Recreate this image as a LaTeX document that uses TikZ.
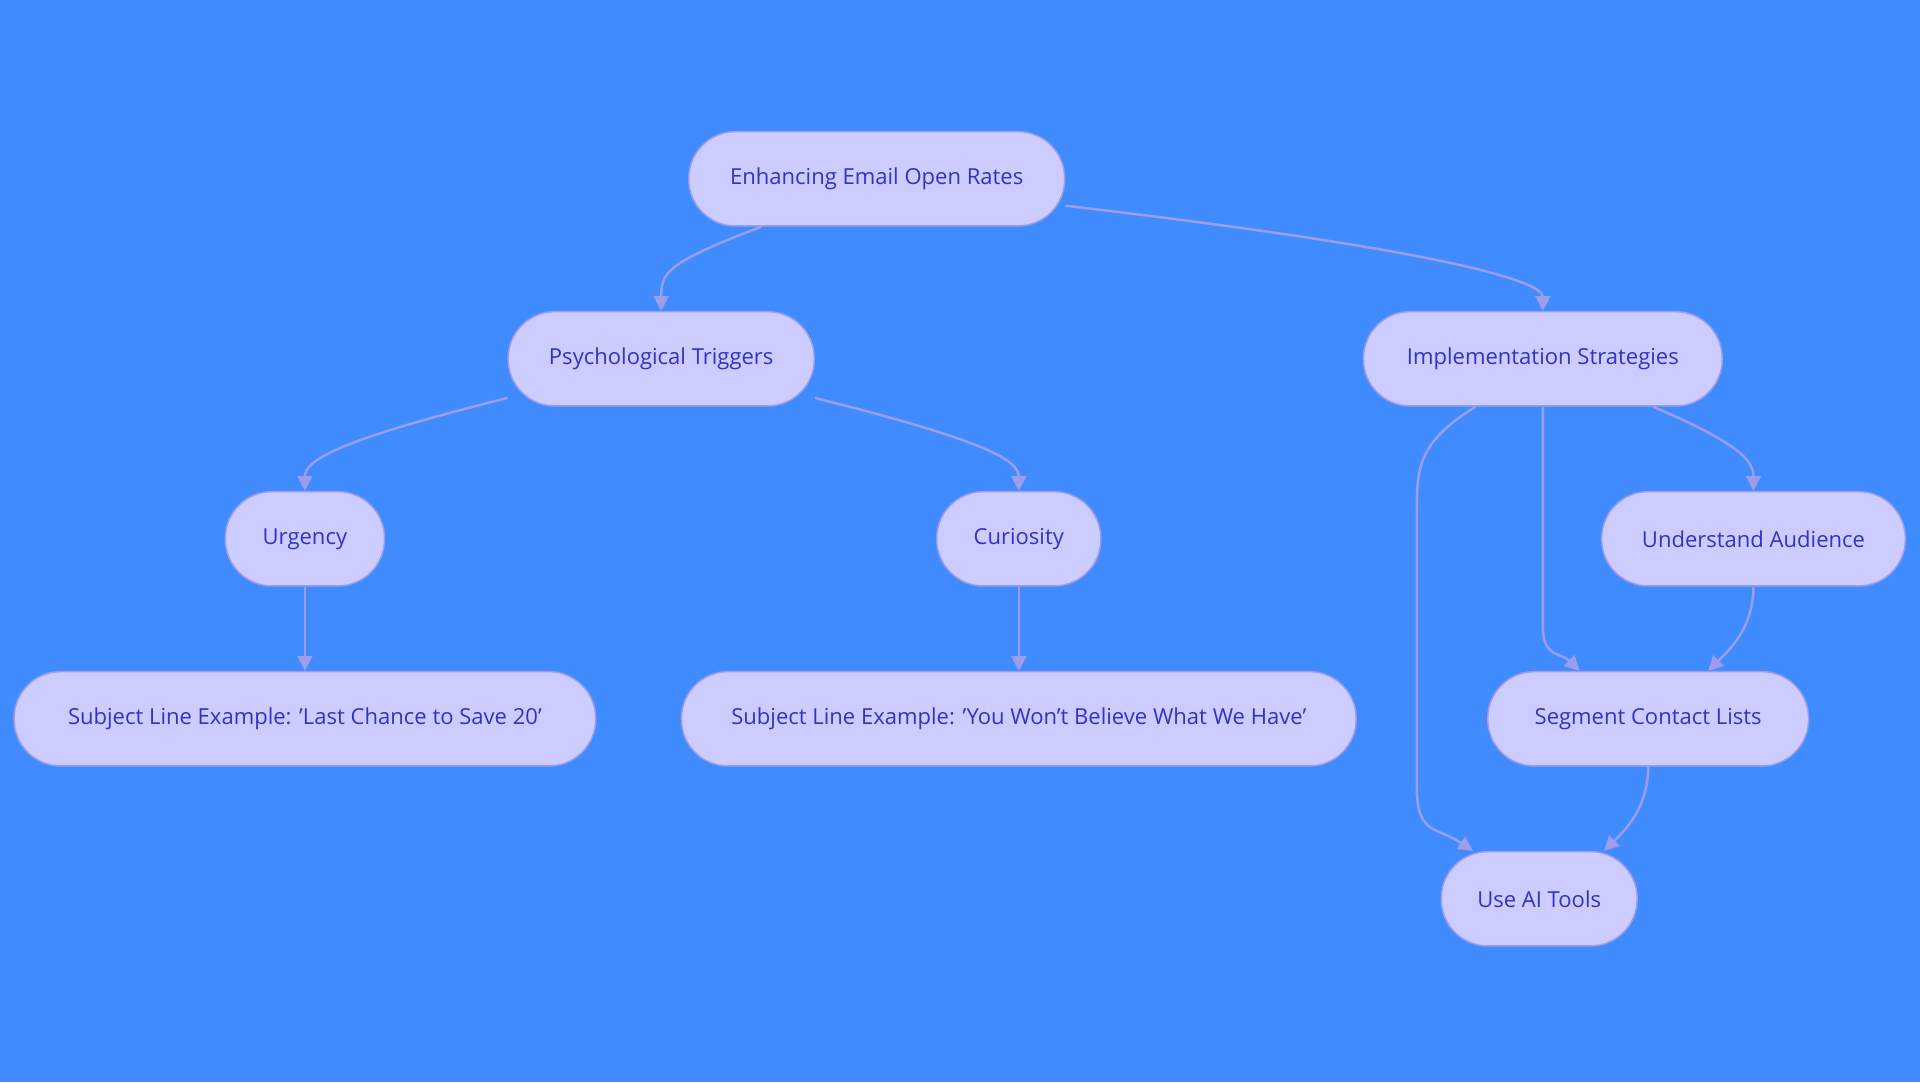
\documentclass[tikz,border=0pt]{standalone}
\usepackage{fontspec}
\setmainfont{Open Sans}
\usetikzlibrary{positioning, calc, arrows.meta}
\definecolor{bgblue}{HTML}{408CFF}
\definecolor{boxfill}{HTML}{CCCCFF}
\definecolor{boxline}{HTML}{9D9DEB}
\definecolor{boxtext}{HTML}{3232C8}
\begin{document}
\begin{tikzpicture}[x=1pt, y=1pt, >={Triangle[length=12pt, width=12pt]},
    box/.style={draw=boxline, line width=1.2pt, fill=boxfill, rounded corners=38pt,
        minimum height=77pt, text=boxtext, font=\fontsize{18}{22}\selectfont, inner sep=0pt},
    link/.style={->, draw=boxline, line width=2pt, color=boxline}]
    \fill[bgblue] (0,0) rectangle (1568,-884);
    \useasboundingbox (0,0) rectangle (1568,-884);

    \node[box, minimum width=307pt] (enh)  at (716,-146) {Enhancing Email Open Rates};
    \node[box, minimum width=250pt] (psy)  at (540,-293) {Psychological Triggers};
    \node[box, minimum width=293pt] (impl) at (1260,-293) {Implementation Strategies};
    \node[box, minimum width=130pt] (urg)  at (249,-440) {Urgency};
    \node[box, minimum width=134pt] (cur)  at (832,-440) {Curiosity};
    \node[box, minimum width=248pt] (aud)  at (1432,-440) {Understand Audience};
    \node[box, minimum width=475pt] (exl)  at (249,-587) {Subject Line Example: 'Last Chance to Save 20'};
    \node[box, minimum width=551pt] (exc)  at (832,-587) {Subject Line Example: 'You Won't Believe What We Have'};
    \node[box, minimum width=262pt] (seg)  at (1346,-587) {Segment Contact Lists};
    \node[box, minimum width=160pt] (ai)   at (1257,-734) {Use AI Tools};

    % links
    \draw[link] ([xshift=-94pt]enh.south) .. controls ++(-80,-30) and ++(0,30) .. (psy.north);
    \draw[link] ([yshift=-22pt]enh.east) .. controls ++(300,-35) and ++(0,25) .. (impl.north);
    \draw[link] ([yshift=-32pt]psy.west) .. controls ++(-140,-35) and ++(0,25) .. (urg.north);
    \draw[link] ([yshift=-32pt]psy.east) .. controls ++(140,-35) and ++(0,25) .. (cur.north);
    \draw[link] (urg) -- (exl);
    \draw[link] (cur) -- (exc);
    \draw[link] ([xshift=-55pt]impl.south) .. controls ++(-48,-30) and ++(0,40) .. ++(-48,-90)
        -- ++(0,-220) .. controls ++(0,-40) and ++(-30,20) .. ([xshift=-54pt]ai.north);
    \draw[link] (impl.south) -- ++(0,-180) .. controls ++(0,-25) and ++(-15,15) .. ([xshift=-56pt]seg.north);
    \draw[link] ([xshift=90pt]impl.south) .. controls ++(70,-30) and ++(0,25) .. (aud.north);
    \draw[link] (aud.south) .. controls ++(0,-35) and ++(15,15) .. ([xshift=49pt]seg.north);
    \draw[link] (seg.south) .. controls ++(0,-35) and ++(15,15) .. ([xshift=53pt]ai.north);
\end{tikzpicture}
\end{document}
